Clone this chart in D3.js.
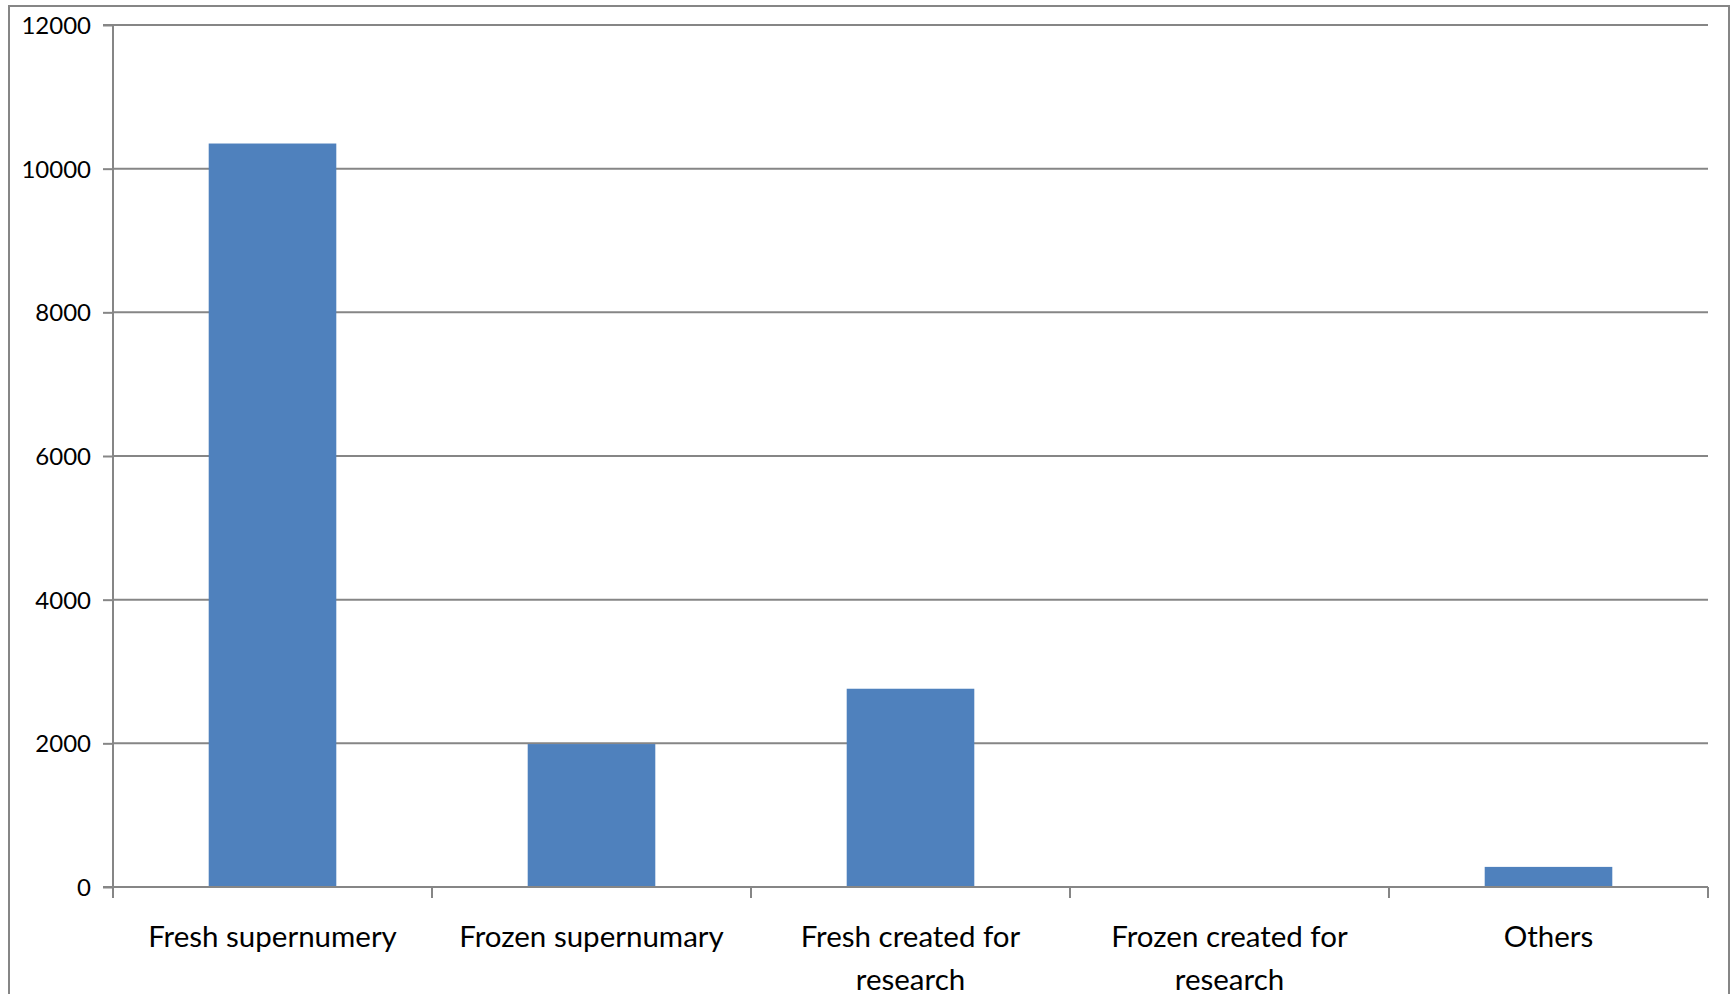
<!DOCTYPE html>
<html>
<head>
<meta charset="utf-8">
<script src="https://cdn.jsdelivr.net/npm/d3@7"></script>
<style>
html,body{margin:0;padding:0;background:#fff;overflow:hidden;}
svg{display:block;}
</style>
</head>
<body>
<svg id="chart" width="1734" height="994"></svg>
<script>
const categories = [["Fresh supernumery"], ["Frozen supernumary"], ["Fresh created for", "research"], ["Frozen created for", "research"], ["Others"]];
const values = [10350, 1990, 2760, 0, 280];
const yTicks = [0, 2000, 4000, 6000, 8000, 10000, 12000];

(function () {
const svg = d3.select("#chart");
const mLeft = 113, mRight = 1708, mTop = 25, mBottom = 887;
const gray = "#868686";

// outer frame (left, top, right; bottom cut off)
svg.append("path")
  .attr("d", "M9,994 L9,6 L1729,6 L1729,994")
  .attr("fill", "none").attr("stroke", gray).attr("stroke-width", 2);

const x = d3.scaleBand().domain(d3.range(categories.length)).range([mLeft, mRight]).paddingInner(0).paddingOuter(0);
const y = d3.scaleLinear().domain([0, 12000]).range([mBottom, mTop]);

// gridlines
svg.append("g").selectAll("line").data(yTicks.filter(d => d > 0)).join("line")
  .attr("x1", mLeft).attr("x2", mRight)
  .attr("y1", d => y(d)).attr("y2", d => y(d))
  .attr("stroke", gray).attr("stroke-width", 2);

// bars
const bw = x.bandwidth() / 2.5;
svg.append("g").selectAll("rect").data(values).join("rect")
  .attr("x", (d, i) => x(i) + (x.bandwidth() - bw) / 2)
  .attr("width", bw)
  .attr("y", d => y(d))
  .attr("height", d => y(0) - y(d))
  .attr("fill", "#4f81bd");

// y axis
const yAxis = d3.axisLeft(y).tickValues(yTicks).tickSize(10).tickPadding(12).tickFormat(d3.format("d"));
const gy = svg.append("g").attr("transform", `translate(${mLeft},0)`).call(yAxis);
gy.select(".domain").attr("stroke", gray).attr("stroke-width", 2).attr("d", `M-10,${mTop}H0V${mBottom}H-10`);
gy.selectAll(".tick line").attr("stroke", gray).attr("stroke-width", 2);
gy.selectAll(".tick text").attr("font-family", "Lato, 'Open Sans', sans-serif").attr("font-size", 24).attr("fill", "#000").attr("dy", "0.35em");

// x axis line and ticks
svg.append("line").attr("x1", mLeft).attr("x2", mRight).attr("y1", mBottom).attr("y2", mBottom)
  .attr("stroke", gray).attr("stroke-width", 2);
const tickXs = d3.range(categories.length + 1).map(i => mLeft + i * x.bandwidth());
svg.append("g").selectAll("line").data(tickXs).join("line")
  .attr("x1", d => d).attr("x2", d => d).attr("y1", mBottom).attr("y2", mBottom + 11)
  .attr("stroke", gray).attr("stroke-width", 2);

// category labels
const lab = svg.append("g").selectAll("text").data(categories).join("text")
  .attr("text-anchor", "middle")
  .attr("font-family", "Lato, 'Open Sans', sans-serif").attr("font-size", 29.5).attr("fill", "#000");
lab.each(function(d, i) {
  const t = d3.select(this);
  d.forEach((line, k) => {
    t.append("tspan").attr("x", x(i) + x.bandwidth() / 2).attr("y", 947 + k * 43).text(line);
  });
});
})();
</script>
</body>
</html>
